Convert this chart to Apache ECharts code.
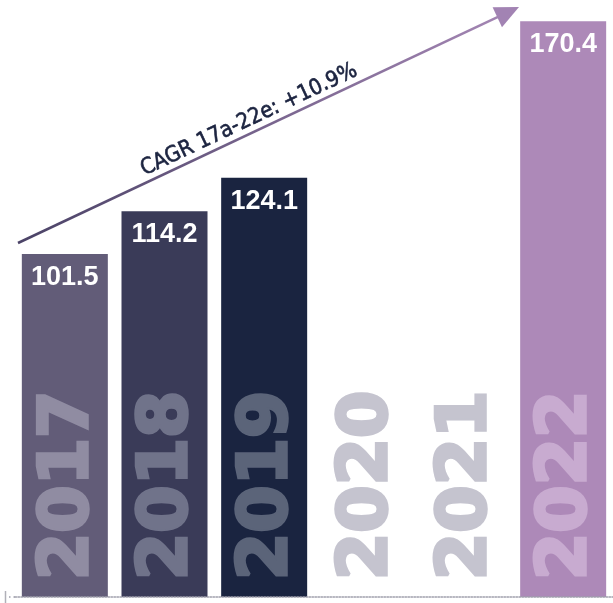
<!DOCTYPE html>
<html>
<head>
<meta charset="utf-8">
<style>html,body{margin:0;padding:0;background:#fff;}#c{width:613px;height:603px;}</style>
<script src="https://cdn.jsdelivr.net/npm/echarts@6/dist/echarts.min.js"></script>
</head>
<body>
<div id="c"></div>
<script>
const years = ['2017', '2018', '2019', '2020', '2021', '2022'];
const values = [101.5, 114.2, 124.1, null, null, 170.4];
const barColors = ['#625c78', '#3a3b58', '#1a2440', '#ffffff', '#ffffff', '#ad89b8'];
const yearColors = ['#908ca2', '#70738a', '#5b6479', '#c5c4cf', '#c5c4cf', '#c8abd0'];
const cagrText = 'CAGR 17a-22e: +10.9%';

const chart = echarts.init(document.getElementById('c'));

// arrow geometry (annotation)
const ax1 = 18, ay1 = 243, ax2 = 519, ay2 = 7;
const ang = Math.atan2(ay1 - ay2, ax2 - ax1);
const ux = Math.cos(ang), uy = -Math.sin(ang);
const headLen = 24, headHalf = 11;
const bx = ax2 - ux * headLen, by = ay2 - uy * headLen;
const nx = -uy, ny = ux;

const yearRich = {};
yearColors.forEach((c, i) => {
  yearRich['y' + i] = {
    color: c,
    textBorderColor: c,
    textBorderWidth: 3.5,
    fontSize: 68,
    fontWeight: 'bold',
    fontFamily: 'DejaVu Sans',
    padding: [8, 0, 0, 0]
  };
});

chart.setOption({
  animation: false,
  grid: { left: 15, width: 600, top: 4, bottom: 6 },
  xAxis: {
    type: 'category',
    data: years,
    z: 5,
    axisLine: { show: true, lineStyle: { color: '#a0a0ac', type: 'dotted', width: 1.5 } },
    axisTick: { show: false },
    axisLabel: {
      inside: true,
      rotate: 90,
      interval: 0,
      margin: 17,
      fontSize: 68,
      fontWeight: 'bold',
      fontFamily: 'DejaVu Sans',
      formatter: (v) => '{y' + years.indexOf(v) + '|' + v + '}',
      rich: yearRich
    }
  },
  yAxis: { type: 'value', min: 0, max: 175.5, show: false },
  series: [{
    type: 'bar',
    barWidth: 86,
    data: values.map((v, i) => ({ value: v, itemStyle: { color: barColors[i] } })),
    label: {
      show: true,
      position: 'insideTop',
      distance: 10,
      color: '#ffffff',
      fontSize: 27,
      fontWeight: 'bold',
      fontFamily: 'Liberation Sans',
      formatter: p => p.value.toFixed(1)
    }
  }],
  graphic: [
    {
      type: 'line',
      shape: { x1: ax1, y1: ay1, x2: bx + ux * 2, y2: by + uy * 2 },
      style: {
        lineWidth: 2.5,
        stroke: new echarts.graphic.LinearGradient(0, 0, 1, 0, [
          { offset: 0, color: '#4a4266' },
          { offset: 1, color: '#a385b3' }
        ])
      },
      z: 10
    },
    {
      type: 'polygon',
      shape: { points: [[ax2, ay2], [bx + nx * headHalf, by + ny * headHalf], [bx - nx * headHalf, by - ny * headHalf]] },
      style: { fill: '#a283b3' },
      z: 10
    },
    {
      type: 'text',
      x: 249, y: 120,
      rotation: ang,
      style: {
        text: cagrText,
        fill: '#1c2440',
        stroke: '#1c2440',
        lineWidth: 0.6,
        font: '22px "DejaVu Sans Condensed"',
        align: 'center',
        verticalAlign: 'middle'
      },
      z: 10
    },
    {
      type: 'line',
      shape: { x1: 5.5, y1: 591, x2: 5.5, y2: 603 },
      style: { stroke: '#b0b0b8', lineWidth: 1.5 }
    },
    {
      type: 'line',
      shape: { x1: 9, y1: 597, x2: 15, y2: 597 },
      style: { stroke: '#a0a0ac', lineWidth: 1.5, lineDash: [1.5, 3] }
    }
  ]
});
</script>
</body>
</html>
